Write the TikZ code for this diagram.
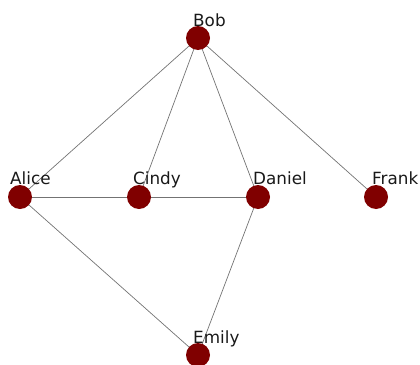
\documentclass[tikz,border=0pt]{standalone}
\usepackage{fontspec}
\setmainfont{DejaVu Sans}
\definecolor{nodered}{RGB}{128,0,0}
\definecolor{edgegray}{RGB}{115,115,115}
\definecolor{labeltext}{RGB}{25,25,25}
\begin{document}
\begin{tikzpicture}[x=1pt,y=-1pt,
  vert/.style={circle,fill=nodered,inner sep=0pt,minimum size=24pt},
  edge/.style={draw=edgegray,line width=0.7pt},
  lab/.style={anchor=base west,inner sep=0pt,text=labeltext,font=\fontsize{16.8}{19}\selectfont}]
\useasboundingbox (0,0) rectangle (420,364);
\coordinate (pBob) at (198,38);
\coordinate (pAlice) at (20,197);
\coordinate (pCindy) at (139,197);
\coordinate (pDaniel) at (258,197);
\coordinate (pFrank) at (376,197);
\coordinate (pEmily) at (198,355);
\draw[edge] (pBob) -- (pAlice);
\draw[edge] (pBob) -- (pCindy);
\draw[edge] (pBob) -- (pDaniel);
\draw[edge] (pBob) -- (pFrank);
\draw[edge] (pAlice) -- (pCindy);
\draw[edge] (pCindy) -- (pDaniel);
\draw[edge] (pAlice) -- (pEmily);
\draw[edge] (pDaniel) -- (pEmily);
\node[vert] (Bob) at (pBob) {};
\node[vert] (Alice) at (pAlice) {};
\node[vert] (Cindy) at (pCindy) {};
\node[vert] (Daniel) at (pDaniel) {};
\node[vert] (Frank) at (pFrank) {};
\node[vert] (Emily) at (pEmily) {};
\node[lab] (lBob) at (193,26.5) {Bob};
\node[lab] (lAlice) at (10,184) {Alice};
\node[lab] (lCindy) at (133,184) {Cindy};
\node[lab] (lDaniel) at (253,184) {Daniel};
\node[lab] (lFrank) at (372,184) {Frank};
\node[lab] (lEmily) at (193,343) {Emily};
\end{tikzpicture}
\end{document}
